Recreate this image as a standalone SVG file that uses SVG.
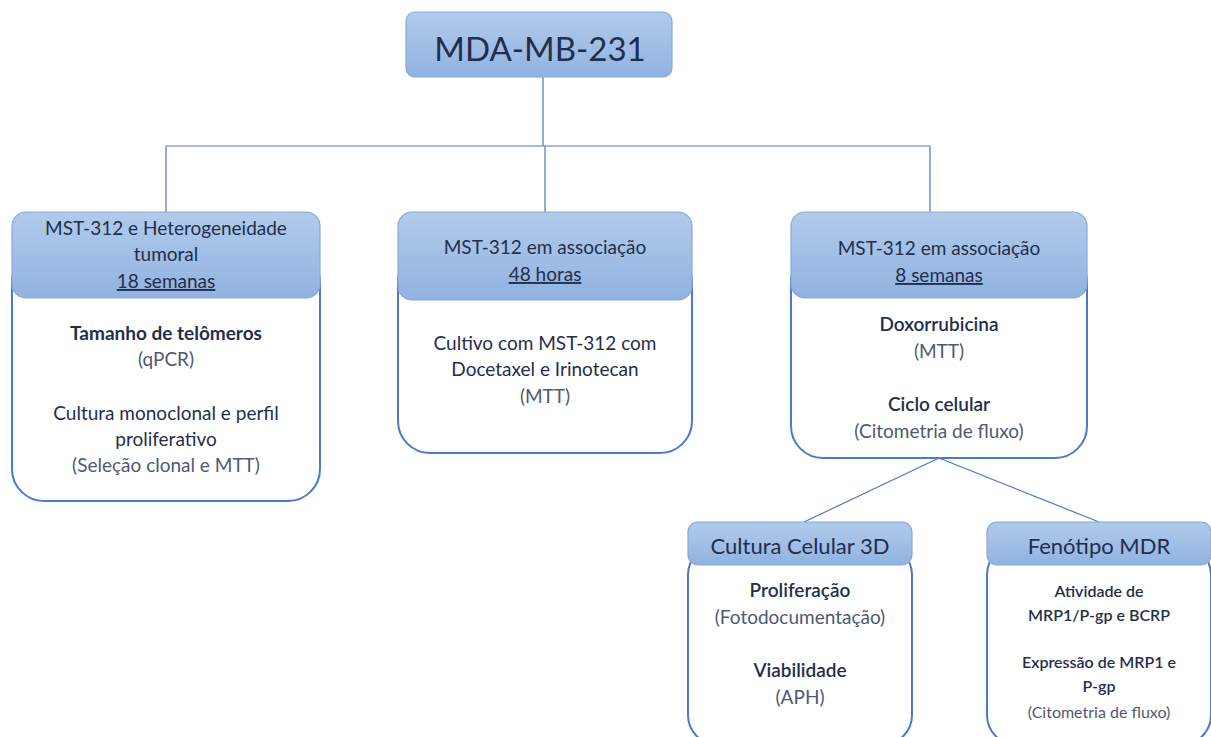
<svg xmlns="http://www.w3.org/2000/svg" width="1211" height="737" viewBox="0 0 1211 737">
<defs>
<linearGradient id="hg" x1="0" y1="0" x2="0" y2="1">
<stop offset="0" stop-color="#b1cbeb"/>
<stop offset="1" stop-color="#91b2e0"/>
</linearGradient>
<style>
.hdr{fill:url(#hg);stroke:#86a9d9;stroke-width:1.2}
.body{fill:#fff;stroke:#4e79c6;stroke-width:2}
.con{stroke:#4f78c0;stroke-width:1.2;fill:none}
text{font-family:Lato,"Open Sans","Liberation Sans",sans-serif;text-anchor:middle;fill:#1f2f4d}
.h{font-size:19px}
.b{font-size:19px;font-weight:bold}
.m{font-size:19px}
.g{font-size:19px;fill:#4d5a74}
.u{text-decoration:underline}
</style>
</defs>
<rect width="1211" height="737" fill="#fff"/>
<g id="connectors">
<path class="con" d="M543 77 V146 M166 146 H930 M166 146 V212 M545 146 V212 M930 146 V212 M939 458 L804 522 M939 458 L1099 522"/>
</g>
<g id="root">
<rect class="hdr" x="406" y="12" width="266" height="65" rx="9"/>
<text x="540" y="61" style="font-size:33px">MDA-MB-231</text>
</g>
<g id="n1">
<rect class="body" x="12" y="250" width="308" height="251" rx="32"/>
<rect class="hdr" x="12" y="212" width="308" height="86" rx="14"/>
<text class="h" x="166" y="235">MST-312 e Heterogeneidade</text>
<text class="h" x="166" y="261">tumoral</text>
<text class="h u" x="166" y="288">18 semanas</text>
<text class="b" x="166" y="340">Tamanho de telômeros</text>
<text class="g" x="166" y="366">(qPCR)</text>
<text class="m" x="166" y="420">Cultura monoclonal e perfil</text>
<text class="m" x="166" y="446">proliferativo</text>
<text class="g" x="166" y="472">(Seleção clonal e MTT)</text>
</g>
<g id="n2">
<rect class="body" x="398" y="250" width="294" height="203" rx="32"/>
<rect class="hdr" x="398" y="212" width="294" height="88" rx="14"/>
<text class="h" x="545" y="254">MST-312 em associação</text>
<text class="h u" x="545" y="281">48 horas</text>
<text class="m" x="545" y="350">Cultivo com MST-312 com</text>
<text class="m" x="545" y="376">Docetaxel e Irinotecan</text>
<text class="g" x="545" y="403">(MTT)</text>
</g>
<g id="n3">
<rect class="body" x="791" y="250" width="296" height="208" rx="32"/>
<rect class="hdr" x="791" y="212" width="296" height="86" rx="14"/>
<text class="h" x="939" y="255">MST-312 em associação</text>
<text class="h u" x="939" y="282">8 semanas</text>
<text class="m" x="939" y="331" style="font-weight:600">Doxorrubicina</text>
<text class="g" x="939" y="358">(MTT)</text>
<text class="m" x="939" y="411" style="font-weight:600">Ciclo celular</text>
<text class="g" x="939" y="438">(Citometria de fluxo)</text>
</g>
<g id="n4">
<rect class="body" x="688" y="545" width="224" height="200" rx="30"/>
<rect class="hdr" x="688" y="522" width="224" height="43" rx="10"/>
<text x="800" y="554" style="font-size:22px">Cultura Celular 3D</text>
<text class="m" x="800" y="597" style="font-weight:600">Proliferação</text>
<text class="g" x="800" y="624">(Fotodocumentação)</text>
<text class="m" x="800" y="677" style="font-weight:600">Viabilidade</text>
<text class="g" x="800" y="704">(APH)</text>
</g>
<g id="n5">
<rect class="body" x="987" y="545" width="224" height="200" rx="30"/>
<rect class="hdr" x="987" y="522" width="224" height="43" rx="10"/>
<text x="1099" y="554" style="font-size:22px">Fenótipo MDR</text>
<text x="1099" y="597" style="font-size:16px;font-weight:600">Atividade de</text>
<text x="1099" y="621" style="font-size:16px;font-weight:600">MRP1/P-gp e BCRP</text>
<text x="1099" y="668" style="font-size:16px;font-weight:600">Expressão de MRP1 e</text>
<text x="1099" y="692" style="font-size:16px;font-weight:600">P-gp</text>
<text x="1099" y="718" style="font-size:16px;fill:#4d5a74">(Citometria de fluxo)</text>
</g>
</svg>
